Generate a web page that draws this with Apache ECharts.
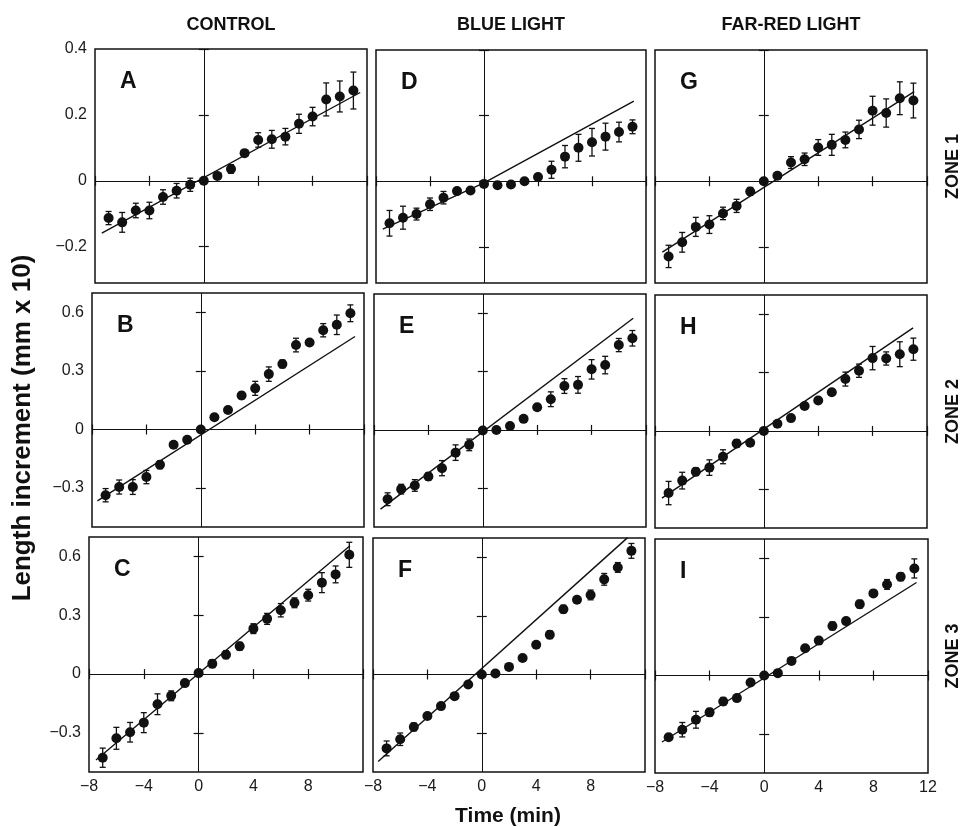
<!DOCTYPE html>
<html>
<head>
<meta charset="utf-8">
<script src="https://cdn.jsdelivr.net/npm/echarts@6/dist/echarts.min.js"></script>
<style>
  html, body { margin: 0; padding: 0; background: #ffffff; }
  #chart { width: 961px; height: 828px; }
</style>
</head>
<body>
<div id="chart"></div>
<script>
// Sampling times (min) relative to the start of the light treatment
const minutes = [-7, -6, -5, -4, -3, -2, -1, 0, 1, 2, 3, 4, 5, 6, 7, 8, 9, 10, 11];

const columnTitles = ['CONTROL', 'BLUE LIGHT', 'FAR-RED LIGHT'];
const zoneLabels = ['ZONE 1', 'ZONE 2', 'ZONE 3'];
const xTicks = [-8, -4, 0, 4, 8, 12];
const yTicksZone1 = [-0.2, 0, 0.2, 0.4];
const yTicksZone23 = [-0.3, 0, 0.3, 0.6];
const yRangeZone1 = [-0.31, 0.4];
const yRangeZone23 = [-0.5, 0.7];

// Zone 1
const meanA = [-0.113, -0.126, -0.090, -0.090, -0.049, -0.030, -0.012, 0.000, 0.015, 0.036, 0.084, 0.124, 0.126, 0.134, 0.173, 0.195, 0.247, 0.256, 0.274];
const errA  = [0.020, 0.030, 0.022, 0.025, 0.022, 0.022, 0.020, 0.005, 0.005, 0.013, 0.008, 0.022, 0.027, 0.025, 0.029, 0.028, 0.050, 0.047, 0.056];
const fitA  = [[-7.5, -0.159], [11.5, 0.268]];

const meanD = [-0.128, -0.111, -0.100, -0.070, -0.050, -0.030, -0.028, -0.008, -0.012, -0.010, 0.000, 0.013, 0.035, 0.075, 0.102, 0.119, 0.136, 0.150, 0.166];
const errD  = [0.039, 0.035, 0.018, 0.019, 0.019, 0.008, 0.008, 0.006, 0.005, 0.005, 0.006, 0.010, 0.026, 0.034, 0.041, 0.042, 0.041, 0.030, 0.021];
const fitD  = [[-7.5, -0.146], [0, -0.005], [11.1, 0.244]];

const meanG = [-0.229, -0.186, -0.139, -0.132, -0.098, -0.075, -0.031, 0.000, 0.017, 0.057, 0.067, 0.103, 0.111, 0.126, 0.158, 0.215, 0.208, 0.253, 0.246];
const errG  = [0.034, 0.030, 0.029, 0.027, 0.019, 0.020, 0.012, 0.005, 0.006, 0.018, 0.019, 0.024, 0.032, 0.024, 0.028, 0.044, 0.043, 0.050, 0.053];
const fitG  = [[-7.46, -0.216], [11.06, 0.273]];

// Zone 2
const meanB = [-0.337, -0.295, -0.295, -0.244, -0.181, -0.078, -0.053, 0.000, 0.063, 0.100, 0.174, 0.211, 0.284, 0.336, 0.433, 0.446, 0.509, 0.537, 0.596];
const errB  = [0.034, 0.036, 0.038, 0.034, 0.020, 0.010, 0.010, 0.008, 0.015, 0.015, 0.017, 0.036, 0.037, 0.020, 0.035, 0.015, 0.034, 0.050, 0.043];
const fitB  = [[-7.6, -0.366], [11.34, 0.477]];

const meanE = [-0.357, -0.305, -0.286, -0.240, -0.197, -0.117, -0.077, -0.003, 0.000, 0.020, 0.057, 0.117, 0.158, 0.226, 0.232, 0.312, 0.334, 0.437, 0.472];
const errE  = [0.033, 0.025, 0.030, 0.020, 0.039, 0.040, 0.030, 0.008, 0.008, 0.012, 0.008, 0.015, 0.038, 0.038, 0.043, 0.050, 0.045, 0.034, 0.040];
const fitE  = [[-7.52, -0.408], [11.06, 0.575]];

const meanH = [-0.320, -0.256, -0.210, -0.189, -0.133, -0.065, -0.061, 0.000, 0.037, 0.066, 0.128, 0.157, 0.199, 0.267, 0.310, 0.375, 0.373, 0.395, 0.421];
const errH  = [0.060, 0.043, 0.020, 0.040, 0.036, 0.020, 0.012, 0.008, 0.012, 0.015, 0.015, 0.012, 0.015, 0.036, 0.034, 0.060, 0.034, 0.064, 0.057];
const fitH  = [[-7.49, -0.346], [10.98, 0.531]];

// Zone 3
const meanC = [-0.427, -0.328, -0.297, -0.248, -0.154, -0.111, -0.046, 0.005, 0.053, 0.099, 0.142, 0.232, 0.282, 0.326, 0.364, 0.403, 0.467, 0.509, 0.609];
const errC  = [0.049, 0.056, 0.050, 0.051, 0.053, 0.025, 0.012, 0.008, 0.020, 0.020, 0.020, 0.025, 0.028, 0.034, 0.025, 0.030, 0.051, 0.043, 0.064];
const fitC  = [[-7.49, -0.439], [11.05, 0.655]];

const meanF = [-0.379, -0.332, -0.269, -0.213, -0.162, -0.111, -0.051, 0.000, 0.005, 0.039, 0.085, 0.153, 0.204, 0.335, 0.383, 0.408, 0.488, 0.549, 0.634];
const errF  = [0.038, 0.032, 0.020, 0.010, 0.008, 0.008, 0.008, 0.008, 0.008, 0.008, 0.010, 0.015, 0.020, 0.020, 0.010, 0.025, 0.030, 0.025, 0.038];
const fitF  = [[-7.62, -0.446], [10.72, 0.702]];

const meanI = [-0.317, -0.278, -0.227, -0.189, -0.133, -0.116, -0.036, 0.000, 0.012, 0.075, 0.140, 0.179, 0.254, 0.279, 0.366, 0.421, 0.467, 0.506, 0.549];
const errI  = [0.015, 0.037, 0.043, 0.020, 0.020, 0.015, 0.008, 0.008, 0.015, 0.008, 0.008, 0.008, 0.020, 0.015, 0.020, 0.015, 0.025, 0.020, 0.049];
const fitI  = [[-7.49, -0.341], [11.16, 0.477]];

// Panels in reading order (row = zone, column = treatment)
const panels = [
  { letter: 'A', mean: meanA, err: errA, fit: fitA },
  { letter: 'D', mean: meanD, err: errD, fit: fitD },
  { letter: 'G', mean: meanG, err: errG, fit: fitG },
  { letter: 'B', mean: meanB, err: errB, fit: fitB },
  { letter: 'E', mean: meanE, err: errE, fit: fitE },
  { letter: 'H', mean: meanH, err: errH, fit: fitH },
  { letter: 'C', mean: meanC, err: errC, fit: fitC },
  { letter: 'F', mean: meanF, err: errF, fit: fitF },
  { letter: 'I', mean: meanI, err: errI, fit: fitI }
];

// Plot-area boxes [left, top, width, height]
const boxes = [
  [95, 49, 272, 234], [376, 50, 270, 233], [655, 50, 272, 233],
  [92, 293, 272, 234], [374, 294, 272, 233], [655, 295, 272, 233],
  [89, 537, 274, 235], [373, 538, 272, 234], [655, 539, 273, 234]
];

const INK = '#111111';
const BASE_FONT = '"Liberation Sans", Arial, sans-serif';

function fmt(v) {
  if (v === 0) return '0';
  return (v < 0 ? '\u2212' : '') + String(Math.abs(v));
}

function renderErrorBar(params, api) {
  const x = api.value(0);
  const lo = api.coord([x, api.value(1)]);
  const hi = api.coord([x, api.value(2)]);
  const cap = 3;
  const style = { stroke: INK, lineWidth: 1.3 };
  return {
    type: 'group',
    children: [
      { type: 'line', shape: { x1: lo[0], y1: lo[1], x2: hi[0], y2: hi[1] }, style: style },
      { type: 'line', shape: { x1: lo[0] - cap, y1: lo[1], x2: lo[0] + cap, y2: lo[1] }, style: style },
      { type: 'line', shape: { x1: hi[0] - cap, y1: hi[1], x2: hi[0] + cap, y2: hi[1] }, style: style }
    ]
  };
}

const grids = [], xAxes = [], yAxes = [], series = [], graphics = [];

panels.forEach(function (p, i) {
  const row = Math.floor(i / 3), col = i % 3;
  const b = boxes[i];
  const yr = row === 0 ? yRangeZone1 : yRangeZone23;
  const yt = row === 0 ? yTicksZone1 : yTicksZone23;

  grids.push({ left: b[0], top: b[1], width: b[2], height: b[3],
    show: true, borderColor: INK, borderWidth: 1.5, backgroundColor: 'transparent' });

  const tick = { show: true, inside: true, length: 5, lineStyle: { color: INK, width: 1.2 } };

  xAxes.push({
    type: 'value', gridIndex: i, position: 'bottom', min: -8, max: 12, interval: 4,
    axisLine: { show: false }, splitLine: { show: false }, axisTick: tick,
    axisLabel: {
      show: row === 2, margin: 7, color: '#1a1a1a', fontFamily: BASE_FONT, fontSize: 16,
      customValues: col === 2 ? xTicks : xTicks.slice(0, 5), formatter: fmt
    }
  });
  xAxes.push({
    type: 'value', gridIndex: i, position: 'top', min: -8, max: 12, interval: 4,
    axisLine: { show: false }, splitLine: { show: false }, axisTick: tick,
    axisLabel: { show: false }
  });
  yAxes.push({
    type: 'value', gridIndex: i, position: 'left', min: yr[0], max: yr[1],
    axisLine: { show: false }, splitLine: { show: false },
    axisTick: Object.assign({ customValues: yt }, tick),
    axisLabel: {
      show: col === 0, margin: 8, color: '#1a1a1a', fontFamily: BASE_FONT, fontSize: 16,
      customValues: yt, formatter: fmt
    }
  });
  yAxes.push({
    type: 'value', gridIndex: i, position: 'right', min: yr[0], max: yr[1],
    axisLine: { show: false }, splitLine: { show: false },
    axisTick: Object.assign({ customValues: yt }, tick),
    axisLabel: { show: false }
  });

  const xa = 2 * i, ya = 2 * i;

  // fitted growth line, plus the zero reference lines
  series.push({
    type: 'line', xAxisIndex: xa, yAxisIndex: ya, data: p.fit,
    symbol: 'none', silent: true, z: 3,
    lineStyle: { color: INK, width: 1.4 },
    markLine: {
      silent: true, symbol: 'none', label: { show: false },
      lineStyle: { color: INK, width: 1, type: 'solid' },
      data: [{ xAxis: 0 }, { yAxis: 0 }],
      animation: false
    }
  });
  // standard error bars
  series.push({
    type: 'custom', xAxisIndex: xa, yAxisIndex: ya, renderItem: renderErrorBar, z: 4,
    encode: { x: 0, y: [1, 2] }, silent: true,
    data: minutes.map(function (t, k) { return [t, p.mean[k] - p.err[k], p.mean[k] + p.err[k]]; })
  });
  // mean length increment
  series.push({
    type: 'scatter', xAxisIndex: xa, yAxisIndex: ya, symbol: 'circle', symbolSize: 10, z: 5,
    itemStyle: { color: INK, opacity: 1 }, silent: true,
    data: minutes.map(function (t, k) { return [t, p.mean[k]]; })
  });

  graphics.push({
    type: 'text', left: b[0] + 25, top: b[1] + 21,
    style: { text: p.letter, font: 'bold 23px ' + BASE_FONT, fill: INK }
  });
});

columnTitles.forEach(function (t, c) {
  const b = boxes[c];
  graphics.push({
    type: 'text', x: b[0] + b[2] / 2, y: 25,
    style: { text: t, font: 'bold 18px ' + BASE_FONT, fill: INK, align: 'center', verticalAlign: 'middle' }
  });
});

zoneLabels.forEach(function (t, r) {
  const b = boxes[r * 3 + 2];
  graphics.push({
    type: 'text', x: 953, y: b[1] + b[3] / 2, rotation: Math.PI / 2,
    style: { text: t, font: 'bold 18px ' + BASE_FONT, fill: INK, align: 'center', verticalAlign: 'middle' }
  });
});

graphics.push({
  type: 'text', x: 23, y: 428, rotation: Math.PI / 2,
  style: { text: 'Length increment (mm x 10)', font: 'bold 26px ' + BASE_FONT, fill: INK, align: 'center', verticalAlign: 'middle' }
});
graphics.push({
  type: 'text', x: 508, y: 816,
  style: { text: 'Time (min)', font: 'bold 21px ' + BASE_FONT, fill: INK, align: 'center', verticalAlign: 'middle' }
});

const chart = echarts.init(document.getElementById('chart'), null, { renderer: 'canvas' });
chart.setOption({
  animation: false,
  backgroundColor: '#ffffff',
  grid: grids,
  xAxis: xAxes,
  yAxis: yAxes,
  series: series,
  graphic: graphics
});
</script>
</body>
</html>
